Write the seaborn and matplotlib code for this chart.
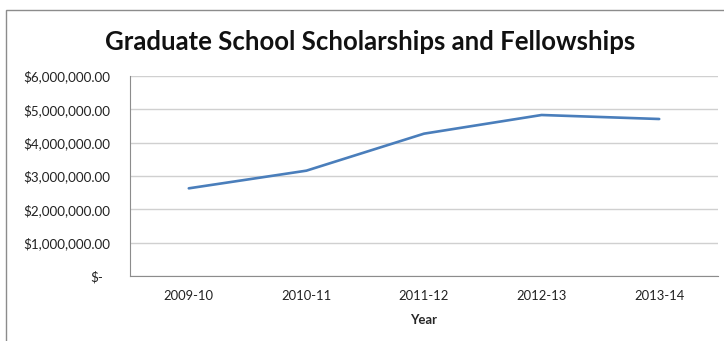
import matplotlib
matplotlib.use("Agg")
import matplotlib.pyplot as plt
import seaborn as sns
import pandas as pd
from matplotlib.patches import Rectangle
from matplotlib.transforms import ScaledTranslation

years = ["2009-10", "2010-11", "2011-12", "2012-13", "2013-14"]
amounts = [2630000, 3160000, 4270000, 4830000, 4710000]
y_ticks = [0, 1000000, 2000000, 3000000, 4000000, 5000000, 6000000]
y_tick_labels = ["$-", "$1,000,000.00", "$2,000,000.00", "$3,000,000.00",
                 "$4,000,000.00", "$5,000,000.00", "$6,000,000.00"]
title = "Graduate School Scholarships and Fellowships"
x_label = "Year"

sns.set_theme(style="white")
plt.rcParams['font.family'] = ['Lato', 'DejaVu Sans']

df = pd.DataFrame({"Year": years, "Amount": amounts})
df["pos"] = range(len(years))

fig = plt.figure(figsize=(7.24, 3.41), dpi=100)
ax = fig.add_axes([130/724, 1-276/341, 588/724, 200/341])

fig.patches.append(Rectangle((6/724, -0.05), 1.0, 1-10/341+0.05, transform=fig.transFigure,
                             fill=False, edgecolor="#8c8c8c", linewidth=1.0))

sns.lineplot(data=df, x="pos", y="Amount", ax=ax, color="#4a7ebb", linewidth=1.9)

ax.set_xlim(-0.5, len(years) - 0.5)
ax.set_ylim(0, 6000000)
ax.set_yticks(y_ticks)
ax.set_yticklabels(y_tick_labels, fontsize=9.6, color="#222222")
ax.set_xticks(range(len(years)))
ax.set_xticklabels(years, fontsize=9.4, color="#222222")
ax.set_xticks([i - 0.5 for i in range(len(years) + 1)], minor=True)
ax.tick_params(axis="x", which="major", length=0, pad=10)
ax.tick_params(axis="x", which="minor", length=5, color="#8c8c8c", width=0.8, direction="out")
ax.tick_params(axis="y", length=5, color="#8c8c8c", width=0.8, direction="out", pad=9)
for t in ax.get_yticklabels():
    t.set_horizontalalignment("right")
# accounting-style zero label sits a little further left
zero_lbl = ax.get_yticklabels()[0]
zero_lbl.set_transform(zero_lbl.get_transform() + ScaledTranslation(-7/100, 0, fig.dpi_scale_trans))

ax.yaxis.grid(True, color="#d0d0d0", linewidth=1.0)
ax.set_axisbelow(True)
for s in ["top", "right"]:
    ax.spines[s].set_visible(False)
ax.spines["left"].set_color("#8c8c8c")
ax.spines["bottom"].set_color("#8c8c8c")
ax.spines["left"].set_linewidth(0.8)
ax.spines["bottom"].set_linewidth(0.8)

ax.set_ylabel("")
ax.set_xlabel(x_label, fontsize=9.4, fontweight="bold", labelpad=9)

fig.text(370/724, 1-42/341, title, ha="center", va="center", fontsize=18.5, fontweight="bold", color="#111111")

fig.savefig("out.png", dpi=100, facecolor="white")
